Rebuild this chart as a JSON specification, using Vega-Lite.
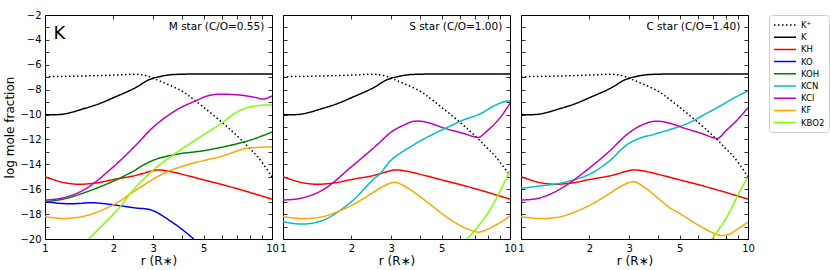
{
  "$schema": "https://vega.github.io/schema/vega-lite/v6.json",
  "padding": {"left": 3, "top": 9, "right": 0, "bottom": 0},
  "config": {
    "font": "DejaVu Sans",
    "view": {"stroke": "black", "strokeWidth": 1},
    "axis": {"domain": false, "grid": false, "labelFontSize": 10, "titleFontSize": 12, "titleFontWeight": "normal", "labelColor": "black", "titleColor": "black", "tickColor": "black", "tickWidth": 0.8},
    "legend": {"orient": "right", "offset": 14, "strokeColor": "#cccccc", "cornerRadius": 3, "padding": 4, "symbolType": "M-2.2,0H2.2", "symbolSize": 100, "symbolOffset": 6, "labelOffset": 10, "symbolStrokeWidth": 1.5, "labelFontSize": 8.5, "labelColor": "black", "rowPadding": 1.2}
  },
  "datasets": {
    "curves": [
      {"panel":"M","species":"K","r":1,"y":-10.0},{"panel":"M","species":"K","r":1.2,"y":-9.97},{"panel":"M","species":"K","r":1.5,"y":-9.5},{"panel":"M","species":"K","r":1.75,"y":-9.1},{"panel":"M","species":"K","r":2,"y":-8.65},{"panel":"M","species":"K","r":2.5,"y":-7.85},{"panel":"M","species":"K","r":2.8,"y":-7.3},{"panel":"M","species":"K","r":3,"y":-7.08},{"panel":"M","species":"K","r":3.5,"y":-6.82},{"panel":"M","species":"K","r":4,"y":-6.76},{"panel":"M","species":"K","r":5,"y":-6.74},{"panel":"M","species":"K","r":7,"y":-6.74},{"panel":"M","species":"K","r":10,"y":-6.74},
      {"panel":"S","species":"K","r":1,"y":-10.0},{"panel":"S","species":"K","r":1.2,"y":-9.97},{"panel":"S","species":"K","r":1.5,"y":-9.5},{"panel":"S","species":"K","r":1.75,"y":-9.1},{"panel":"S","species":"K","r":2,"y":-8.65},{"panel":"S","species":"K","r":2.5,"y":-7.85},{"panel":"S","species":"K","r":2.8,"y":-7.3},{"panel":"S","species":"K","r":3,"y":-7.08},{"panel":"S","species":"K","r":3.5,"y":-6.82},{"panel":"S","species":"K","r":4,"y":-6.76},{"panel":"S","species":"K","r":5,"y":-6.74},{"panel":"S","species":"K","r":7,"y":-6.74},{"panel":"S","species":"K","r":10,"y":-6.74},
      {"panel":"C","species":"K","r":1,"y":-10.0},{"panel":"C","species":"K","r":1.2,"y":-9.97},{"panel":"C","species":"K","r":1.5,"y":-9.5},{"panel":"C","species":"K","r":1.75,"y":-9.1},{"panel":"C","species":"K","r":2,"y":-8.65},{"panel":"C","species":"K","r":2.5,"y":-7.85},{"panel":"C","species":"K","r":2.8,"y":-7.3},{"panel":"C","species":"K","r":3,"y":-7.08},{"panel":"C","species":"K","r":3.5,"y":-6.82},{"panel":"C","species":"K","r":4,"y":-6.76},{"panel":"C","species":"K","r":5,"y":-6.74},{"panel":"C","species":"K","r":7,"y":-6.74},{"panel":"C","species":"K","r":10,"y":-6.74},

      {"panel":"M","species":"K⁺","r":1,"y":-6.96},{"panel":"M","species":"K⁺","r":1.5,"y":-6.9},{"panel":"M","species":"K⁺","r":2,"y":-6.83},{"panel":"M","species":"K⁺","r":2.5,"y":-6.76},{"panel":"M","species":"K⁺","r":2.75,"y":-6.85},{"panel":"M","species":"K⁺","r":3,"y":-7.08},{"panel":"M","species":"K⁺","r":3.2,"y":-7.3},{"panel":"M","species":"K⁺","r":4,"y":-8.1},{"panel":"M","species":"K⁺","r":4.6,"y":-8.9},{"panel":"M","species":"K⁺","r":6.05,"y":-10.66},{"panel":"M","species":"K⁺","r":7.1,"y":-11.8},{"panel":"M","species":"K⁺","r":7.9,"y":-12.65},{"panel":"M","species":"K⁺","r":8.7,"y":-13.45},{"panel":"M","species":"K⁺","r":10,"y":-15.0},
      {"panel":"S","species":"K⁺","r":1,"y":-6.96},{"panel":"S","species":"K⁺","r":1.5,"y":-6.9},{"panel":"S","species":"K⁺","r":2,"y":-6.83},{"panel":"S","species":"K⁺","r":2.5,"y":-6.76},{"panel":"S","species":"K⁺","r":2.75,"y":-6.85},{"panel":"S","species":"K⁺","r":3,"y":-7.08},{"panel":"S","species":"K⁺","r":3.2,"y":-7.3},{"panel":"S","species":"K⁺","r":4,"y":-8.1},{"panel":"S","species":"K⁺","r":4.6,"y":-8.9},{"panel":"S","species":"K⁺","r":6.05,"y":-10.66},{"panel":"S","species":"K⁺","r":7.1,"y":-11.8},{"panel":"S","species":"K⁺","r":7.9,"y":-12.65},{"panel":"S","species":"K⁺","r":8.7,"y":-13.45},{"panel":"S","species":"K⁺","r":10,"y":-14.9},
      {"panel":"C","species":"K⁺","r":1,"y":-6.96},{"panel":"C","species":"K⁺","r":1.5,"y":-6.9},{"panel":"C","species":"K⁺","r":2,"y":-6.83},{"panel":"C","species":"K⁺","r":2.5,"y":-6.76},{"panel":"C","species":"K⁺","r":2.75,"y":-6.85},{"panel":"C","species":"K⁺","r":3,"y":-7.08},{"panel":"C","species":"K⁺","r":3.2,"y":-7.3},{"panel":"C","species":"K⁺","r":4,"y":-8.1},{"panel":"C","species":"K⁺","r":4.6,"y":-8.9},{"panel":"C","species":"K⁺","r":6.05,"y":-10.66},{"panel":"C","species":"K⁺","r":7.1,"y":-11.8},{"panel":"C","species":"K⁺","r":7.9,"y":-12.65},{"panel":"C","species":"K⁺","r":8.7,"y":-13.45},{"panel":"C","species":"K⁺","r":10,"y":-15.0},

      {"panel":"M","species":"KH","r":1,"y":-15.0},{"panel":"M","species":"KH","r":1.2,"y":-15.45},{"panel":"M","species":"KH","r":1.4,"y":-15.6},{"panel":"M","species":"KH","r":1.7,"y":-15.48},{"panel":"M","species":"KH","r":2,"y":-15.22},{"panel":"M","species":"KH","r":2.5,"y":-14.9},{"panel":"M","species":"KH","r":3,"y":-14.5},{"panel":"M","species":"KH","r":3.15,"y":-14.45},{"panel":"M","species":"KH","r":3.5,"y":-14.55},{"panel":"M","species":"KH","r":4.3,"y":-14.94},{"panel":"M","species":"KH","r":5,"y":-15.25},{"panel":"M","species":"KH","r":7,"y":-15.95},{"panel":"M","species":"KH","r":10,"y":-16.8},
      {"panel":"S","species":"KH","r":1,"y":-15.0},{"panel":"S","species":"KH","r":1.2,"y":-15.45},{"panel":"S","species":"KH","r":1.4,"y":-15.6},{"panel":"S","species":"KH","r":1.7,"y":-15.48},{"panel":"S","species":"KH","r":2,"y":-15.22},{"panel":"S","species":"KH","r":2.5,"y":-14.9},{"panel":"S","species":"KH","r":3,"y":-14.5},{"panel":"S","species":"KH","r":3.15,"y":-14.45},{"panel":"S","species":"KH","r":3.5,"y":-14.55},{"panel":"S","species":"KH","r":4.3,"y":-14.94},{"panel":"S","species":"KH","r":5,"y":-15.25},{"panel":"S","species":"KH","r":7,"y":-15.95},{"panel":"S","species":"KH","r":10,"y":-16.8},
      {"panel":"C","species":"KH","r":1,"y":-15.0},{"panel":"C","species":"KH","r":1.2,"y":-15.45},{"panel":"C","species":"KH","r":1.4,"y":-15.6},{"panel":"C","species":"KH","r":1.7,"y":-15.48},{"panel":"C","species":"KH","r":2,"y":-15.22},{"panel":"C","species":"KH","r":2.5,"y":-14.9},{"panel":"C","species":"KH","r":3,"y":-14.5},{"panel":"C","species":"KH","r":3.15,"y":-14.45},{"panel":"C","species":"KH","r":3.5,"y":-14.55},{"panel":"C","species":"KH","r":4.3,"y":-14.94},{"panel":"C","species":"KH","r":5,"y":-15.25},{"panel":"C","species":"KH","r":7,"y":-15.95},{"panel":"C","species":"KH","r":10,"y":-16.8},

      {"panel":"M","species":"KO","r":1,"y":-17.0},{"panel":"M","species":"KO","r":1.2,"y":-17.15},{"panel":"M","species":"KO","r":1.4,"y":-17.15},{"panel":"M","species":"KO","r":1.6,"y":-17.08},{"panel":"M","species":"KO","r":1.8,"y":-17.15},{"panel":"M","species":"KO","r":2,"y":-17.25},{"panel":"M","species":"KO","r":2.5,"y":-17.5},{"panel":"M","species":"KO","r":2.87,"y":-17.62},{"panel":"M","species":"KO","r":3.1,"y":-17.85},{"panel":"M","species":"KO","r":3.4,"y":-18.3},{"panel":"M","species":"KO","r":4,"y":-19.2},{"panel":"M","species":"KO","r":4.52,"y":-20.0},

      {"panel":"M","species":"KOH","r":1,"y":-17.0},{"panel":"M","species":"KOH","r":1.2,"y":-16.8},{"panel":"M","species":"KOH","r":1.56,"y":-16.15},{"panel":"M","species":"KOH","r":2,"y":-15.35},{"panel":"M","species":"KOH","r":2.42,"y":-14.6},{"panel":"M","species":"KOH","r":2.75,"y":-14.0},{"panel":"M","species":"KOH","r":3.07,"y":-13.6},{"panel":"M","species":"KOH","r":3.77,"y":-13.2},{"panel":"M","species":"KOH","r":5.1,"y":-12.88},{"panel":"M","species":"KOH","r":7.16,"y":-12.3},{"panel":"M","species":"KOH","r":8.5,"y":-11.9},{"panel":"M","species":"KOH","r":10,"y":-11.4},

      {"panel":"M","species":"KCl","r":1,"y":-16.87},{"panel":"M","species":"KCl","r":1.2,"y":-16.7},{"panel":"M","species":"KCl","r":1.5,"y":-16.0},{"panel":"M","species":"KCl","r":2,"y":-14.2},{"panel":"M","species":"KCl","r":2.5,"y":-12.5},{"panel":"M","species":"KCl","r":3,"y":-11.0},{"panel":"M","species":"KCl","r":3.5,"y":-10.05},{"panel":"M","species":"KCl","r":4,"y":-9.4},{"panel":"M","species":"KCl","r":4.61,"y":-8.9},{"panel":"M","species":"KCl","r":5.1,"y":-8.55},{"panel":"M","species":"KCl","r":5.65,"y":-8.38},{"panel":"M","species":"KCl","r":7.16,"y":-8.43},{"panel":"M","species":"KCl","r":8.3,"y":-8.6},{"panel":"M","species":"KCl","r":9.2,"y":-8.75},{"panel":"M","species":"KCl","r":10,"y":-8.5},

      {"panel":"M","species":"KF","r":1,"y":-18.2},{"panel":"M","species":"KF","r":1.2,"y":-18.35},{"panel":"M","species":"KF","r":1.5,"y":-18.15},{"panel":"M","species":"KF","r":2,"y":-17.25},{"panel":"M","species":"KF","r":2.5,"y":-16.1},{"panel":"M","species":"KF","r":3.07,"y":-15.08},{"panel":"M","species":"KF","r":3.5,"y":-14.55},{"panel":"M","species":"KF","r":4.31,"y":-14.0},{"panel":"M","species":"KF","r":5,"y":-13.7},{"panel":"M","species":"KF","r":6.04,"y":-13.33},{"panel":"M","species":"KF","r":7.66,"y":-12.72},{"panel":"M","species":"KF","r":8.5,"y":-12.65},{"panel":"M","species":"KF","r":10,"y":-12.6},

      {"panel":"M","species":"KBO2","r":1.555,"y":-20.0},{"panel":"M","species":"KBO2","r":2.12,"y":-17.5},{"panel":"M","species":"KBO2","r":2.42,"y":-16.15},{"panel":"M","species":"KBO2","r":3.02,"y":-14.4},{"panel":"M","species":"KBO2","r":3.7,"y":-13.2},{"panel":"M","species":"KBO2","r":4.77,"y":-11.86},{"panel":"M","species":"KBO2","r":6.04,"y":-10.66},{"panel":"M","species":"KBO2","r":6.92,"y":-9.85},{"panel":"M","species":"KBO2","r":7.92,"y":-9.4},{"panel":"M","species":"KBO2","r":9.06,"y":-9.25},{"panel":"M","species":"KBO2","r":10,"y":-9.23},

      {"panel":"S","species":"KCl","r":1,"y":-16.87},{"panel":"S","species":"KCl","r":1.2,"y":-16.72},{"panel":"S","species":"KCl","r":1.5,"y":-16.05},{"panel":"S","species":"KCl","r":2,"y":-14.2},{"panel":"S","species":"KCl","r":2.5,"y":-12.7},{"panel":"S","species":"KCl","r":2.68,"y":-12.2},{"panel":"S","species":"KCl","r":3,"y":-11.4},{"panel":"S","species":"KCl","r":3.4,"y":-10.85},{"panel":"S","species":"KCl","r":3.75,"y":-10.55},{"panel":"S","species":"KCl","r":4.2,"y":-10.58},{"panel":"S","species":"KCl","r":5.26,"y":-11.15},{"panel":"S","species":"KCl","r":6.2,"y":-11.5},{"panel":"S","species":"KCl","r":7.0,"y":-11.8},{"panel":"S","species":"KCl","r":7.3,"y":-11.83},{"panel":"S","species":"KCl","r":8,"y":-11.25},{"panel":"S","species":"KCl","r":9,"y":-10.3},{"panel":"S","species":"KCl","r":10,"y":-9.1},

      {"panel":"S","species":"KCN","r":1,"y":-18.6},{"panel":"S","species":"KCN","r":1.2,"y":-18.8},{"panel":"S","species":"KCN","r":1.5,"y":-18.5},{"panel":"S","species":"KCN","r":2,"y":-17.0},{"panel":"S","species":"KCN","r":2.5,"y":-15.2},{"panel":"S","species":"KCN","r":2.68,"y":-14.75},{"panel":"S","species":"KCN","r":3,"y":-13.65},{"panel":"S","species":"KCN","r":3.75,"y":-12.45},{"panel":"S","species":"KCN","r":4.5,"y":-11.65},{"panel":"S","species":"KCN","r":5.26,"y":-11.06},{"panel":"S","species":"KCN","r":6.2,"y":-10.45},{"panel":"S","species":"KCN","r":7.38,"y":-9.95},{"panel":"S","species":"KCN","r":8.5,"y":-9.3},{"panel":"S","species":"KCN","r":9.5,"y":-8.95},{"panel":"S","species":"KCN","r":10,"y":-8.9},

      {"panel":"S","species":"KF","r":1,"y":-18.2},{"panel":"S","species":"KF","r":1.2,"y":-18.35},{"panel":"S","species":"KF","r":1.5,"y":-18.2},{"panel":"S","species":"KF","r":2,"y":-17.3},{"panel":"S","species":"KF","r":2.5,"y":-16.25},{"panel":"S","species":"KF","r":2.68,"y":-15.9},{"panel":"S","species":"KF","r":3.1,"y":-15.45},{"panel":"S","species":"KF","r":3.5,"y":-15.85},{"panel":"S","species":"KF","r":4.44,"y":-17.2},{"panel":"S","species":"KF","r":5,"y":-17.95},{"panel":"S","species":"KF","r":6,"y":-18.9},{"panel":"S","species":"KF","r":7,"y":-19.4},{"panel":"S","species":"KF","r":7.3,"y":-19.45},{"panel":"S","species":"KF","r":8,"y":-19.2},{"panel":"S","species":"KF","r":9,"y":-18.7},{"panel":"S","species":"KF","r":10,"y":-18.15},

      {"panel":"S","species":"KBO2","r":6.45,"y":-20.0},{"panel":"S","species":"KBO2","r":7,"y":-19.3},{"panel":"S","species":"KBO2","r":8,"y":-17.9},{"panel":"S","species":"KBO2","r":8.9,"y":-16.4},{"panel":"S","species":"KBO2","r":10,"y":-14.5},

      {"panel":"C","species":"KCN","r":1,"y":-15.93},{"panel":"C","species":"KCN","r":1.2,"y":-15.75},{"panel":"C","species":"KCN","r":1.5,"y":-15.5},{"panel":"C","species":"KCN","r":2,"y":-14.8},{"panel":"C","species":"KCN","r":2.5,"y":-13.6},{"panel":"C","species":"KCN","r":2.73,"y":-12.9},{"panel":"C","species":"KCN","r":3,"y":-12.3},{"panel":"C","species":"KCN","r":3.4,"y":-11.85},{"panel":"C","species":"KCN","r":3.83,"y":-11.6},{"panel":"C","species":"KCN","r":5.37,"y":-10.74},{"panel":"C","species":"KCN","r":6.5,"y":-9.95},{"panel":"C","species":"KCN","r":7.53,"y":-9.32},{"panel":"C","species":"KCN","r":8.7,"y":-8.65},{"panel":"C","species":"KCN","r":10,"y":-8.1},

      {"panel":"C","species":"KCl","r":1,"y":-16.87},{"panel":"C","species":"KCl","r":1.2,"y":-16.72},{"panel":"C","species":"KCl","r":1.5,"y":-15.95},{"panel":"C","species":"KCl","r":2,"y":-14.3},{"panel":"C","species":"KCl","r":2.5,"y":-12.8},{"panel":"C","species":"KCl","r":2.73,"y":-12.1},{"panel":"C","species":"KCl","r":3,"y":-11.45},{"panel":"C","species":"KCl","r":3.4,"y":-10.85},{"panel":"C","species":"KCl","r":3.83,"y":-10.55},{"panel":"C","species":"KCl","r":4.3,"y":-10.6},{"panel":"C","species":"KCl","r":5.37,"y":-11.15},{"panel":"C","species":"KCl","r":6.2,"y":-11.5},{"panel":"C","species":"KCl","r":7.16,"y":-11.9},{"panel":"C","species":"KCl","r":7.4,"y":-11.9},{"panel":"C","species":"KCl","r":8,"y":-11.3},{"panel":"C","species":"KCl","r":9,"y":-10.4},{"panel":"C","species":"KCl","r":10,"y":-9.45},

      {"panel":"C","species":"KF","r":1,"y":-18.2},{"panel":"C","species":"KF","r":1.2,"y":-18.35},{"panel":"C","species":"KF","r":1.5,"y":-18.2},{"panel":"C","species":"KF","r":2,"y":-17.3},{"panel":"C","species":"KF","r":2.5,"y":-16.25},{"panel":"C","species":"KF","r":2.73,"y":-15.8},{"panel":"C","species":"KF","r":3.13,"y":-15.4},{"panel":"C","species":"KF","r":3.5,"y":-15.85},{"panel":"C","species":"KF","r":4.53,"y":-17.5},{"panel":"C","species":"KF","r":5,"y":-17.95},{"panel":"C","species":"KF","r":6,"y":-18.85},{"panel":"C","species":"KF","r":7,"y":-19.5},{"panel":"C","species":"KF","r":7.6,"y":-19.72},{"panel":"C","species":"KF","r":8.3,"y":-19.6},{"panel":"C","species":"KF","r":9,"y":-19.2},{"panel":"C","species":"KF","r":10,"y":-18.65},

      {"panel":"C","species":"KBO2","r":6.92,"y":-20.0},{"panel":"C","species":"KBO2","r":8,"y":-18.35},{"panel":"C","species":"KBO2","r":9.06,"y":-16.41},{"panel":"C","species":"KBO2","r":10,"y":-15.0}
    ],
    "labels": [
      {"panel":"M","kind":"title","label":"M star (C/O=0.55)"},
      {"panel":"S","kind":"title","label":"S star (C/O=1.00)"},
      {"panel":"C","kind":"title","label":"C star (C/O=1.40)"},
      {"panel":"M","kind":"big","label":"K"}
    ]
  },
  "hconcat": [
    {
      "width": 227, "height": 224,
      "resolve": {"axis": {"x": "independent", "y": "independent"}},
      "layer": [
        {
          "data": {"name": "curves"},
          "transform": [{"filter": "datum.panel == 'M'"}],
          "mark": {"type": "line", "interpolate": "catmull-rom", "clip": true, "strokeWidth": 1.5},
          "encoding": {
            "x": {"field": "r", "type": "quantitative", "scale": {"type": "log", "domain": [1, 10]}, "axis": {"orient": "bottom", "title": "r (R∗)", "values": [1,2,3,4,5,6,7,8,9,10], "format": "~g", "labelExpr": "indexof([1,2,3,5,10], datum.value) >= 0 ? datum.label : ''", "tickSize": -4, "labelPadding": 8, "titlePadding": 2, "labelFlush": false}},
            "y": {"field": "y", "type": "quantitative", "scale": {"domain": [-20, -2], "nice": false}, "axis": {"orient": "left", "title": "log mole fraction", "values": [-20,-19,-18,-17,-16,-15,-14,-13,-12,-11,-10,-9,-8,-7,-6,-5,-4,-3,-2], "labelExpr": "datum.value % 2 == 0 ? datum.label : ''", "tickSize": -4, "labelPadding": 8, "titlePadding": 3}},
            "color": {"field": "species", "type": "nominal", "scale": {"domain": ["K⁺","K","KH","KO","KOH","KCN","KCl","KF","KBO2"], "range": ["#000000","#000000","#ff0000","#0000ff","#008000","#00bfbf","#bf00bf","#ffa500","#7fff00"]}, "legend": {"title": null}},
            "strokeDash": {"field": "species", "type": "nominal", "scale": {"domain": ["K⁺","K","KH","KO","KOH","KCN","KCl","KF","KBO2"], "range": [[1.5,2.5],[1,0],[1,0],[1,0],[1,0],[1,0],[1,0],[1,0],[1,0]]}, "legend": {"title": null}}
          }
        },
        {
          "data": {"name": "curves"},
          "transform": [{"filter": "datum.panel == 'M'"}],
          "mark": {"type": "point", "opacity": 0, "size": 0},
          "encoding": {
            "x": {"field": "r", "type": "quantitative", "axis": {"orient": "top", "title": null, "values": [1,2,3,4,5,6,7,8,9,10], "labels": false, "tickSize": -4, "minExtent": 0, "maxExtent": 0}},
            "y": {"field": "y", "type": "quantitative", "axis": {"orient": "right", "title": null, "values": [-20,-19,-18,-17,-16,-15,-14,-13,-12,-11,-10,-9,-8,-7,-6,-5,-4,-3,-2], "labels": false, "tickSize": -4, "minExtent": 0, "maxExtent": 0}}
          }
        },
        {
          "data": {"name": "labels"},
          "transform": [{"filter": "datum.panel == 'M' && datum.kind == 'title'"}],
          "mark": {"type": "text", "align": "right", "baseline": "middle", "fontSize": 10.5, "color": "black"},
          "encoding": {"x": {"datum": 9.25, "type": "quantitative", "axis": null}, "y": {"datum": -2.95, "type": "quantitative", "axis": null}, "text": {"field": "label"}}
        },
        {
          "data": {"name": "labels"},
          "transform": [{"filter": "datum.panel == 'M' && datum.kind == 'big'"}],
          "mark": {"type": "text", "align": "left", "baseline": "alphabetic", "fontSize": 18, "color": "black"},
          "encoding": {"x": {"datum": 1.09, "type": "quantitative", "axis": null}, "y": {"datum": -3.9, "type": "quantitative", "axis": null}, "text": {"field": "label"}}
        }
      ]
    },
    {
      "width": 227, "height": 224,
      "resolve": {"axis": {"x": "independent", "y": "independent"}},
      "layer": [
        {
          "data": {"name": "curves"},
          "transform": [{"filter": "datum.panel == 'S'"}],
          "mark": {"type": "line", "interpolate": "catmull-rom", "clip": true, "strokeWidth": 1.5},
          "encoding": {
            "x": {"field": "r", "type": "quantitative", "scale": {"type": "log", "domain": [1, 10]}, "axis": {"orient": "bottom", "title": "r (R∗)", "values": [1,2,3,4,5,6,7,8,9,10], "format": "~g", "labelExpr": "indexof([1,2,3,5,10], datum.value) >= 0 ? datum.label : ''", "tickSize": -4, "labelPadding": 8, "titlePadding": 2, "labelFlush": false}},
            "y": {"field": "y", "type": "quantitative", "scale": {"domain": [-20, -2], "nice": false}, "axis": {"orient": "left", "title": null, "labels": false, "values": [-20,-19,-18,-17,-16,-15,-14,-13,-12,-11,-10,-9,-8,-7,-6,-5,-4,-3,-2], "tickSize": -4, "minExtent": 0, "maxExtent": 0}},
            "color": {"field": "species", "type": "nominal", "scale": {"domain": ["K⁺","K","KH","KO","KOH","KCN","KCl","KF","KBO2"], "range": ["#000000","#000000","#ff0000","#0000ff","#008000","#00bfbf","#bf00bf","#ffa500","#7fff00"]}, "legend": {"title": null}},
            "strokeDash": {"field": "species", "type": "nominal", "scale": {"domain": ["K⁺","K","KH","KO","KOH","KCN","KCl","KF","KBO2"], "range": [[1.5,2.5],[1,0],[1,0],[1,0],[1,0],[1,0],[1,0],[1,0],[1,0]]}, "legend": {"title": null}}
          }
        },
        {
          "data": {"name": "curves"},
          "transform": [{"filter": "datum.panel == 'S'"}],
          "mark": {"type": "point", "opacity": 0, "size": 0},
          "encoding": {
            "x": {"field": "r", "type": "quantitative", "axis": {"orient": "top", "title": null, "values": [1,2,3,4,5,6,7,8,9,10], "labels": false, "tickSize": -4, "minExtent": 0, "maxExtent": 0}},
            "y": {"field": "y", "type": "quantitative", "axis": {"orient": "right", "title": null, "values": [-20,-19,-18,-17,-16,-15,-14,-13,-12,-11,-10,-9,-8,-7,-6,-5,-4,-3,-2], "labels": false, "tickSize": -4, "minExtent": 0, "maxExtent": 0}}
          }
        },
        {
          "data": {"name": "labels"},
          "transform": [{"filter": "datum.panel == 'S' && datum.kind == 'title'"}],
          "mark": {"type": "text", "align": "right", "baseline": "middle", "fontSize": 10.5, "color": "black"},
          "encoding": {"x": {"datum": 9.25, "type": "quantitative", "axis": null}, "y": {"datum": -2.95, "type": "quantitative", "axis": null}, "text": {"field": "label"}}
        }
      ]
    },
    {
      "width": 227, "height": 224,
      "resolve": {"axis": {"x": "independent", "y": "independent"}},
      "layer": [
        {
          "data": {"name": "curves"},
          "transform": [{"filter": "datum.panel == 'C'"}],
          "mark": {"type": "line", "interpolate": "catmull-rom", "clip": true, "strokeWidth": 1.5},
          "encoding": {
            "x": {"field": "r", "type": "quantitative", "scale": {"type": "log", "domain": [1, 10]}, "axis": {"orient": "bottom", "title": "r (R∗)", "values": [1,2,3,4,5,6,7,8,9,10], "format": "~g", "labelExpr": "indexof([1,2,3,5,10], datum.value) >= 0 ? datum.label : ''", "tickSize": -4, "labelPadding": 8, "titlePadding": 2, "labelFlush": false}},
            "y": {"field": "y", "type": "quantitative", "scale": {"domain": [-20, -2], "nice": false}, "axis": {"orient": "left", "title": null, "labels": false, "values": [-20,-19,-18,-17,-16,-15,-14,-13,-12,-11,-10,-9,-8,-7,-6,-5,-4,-3,-2], "tickSize": -4, "minExtent": 0, "maxExtent": 0}},
            "color": {"field": "species", "type": "nominal", "scale": {"domain": ["K⁺","K","KH","KO","KOH","KCN","KCl","KF","KBO2"], "range": ["#000000","#000000","#ff0000","#0000ff","#008000","#00bfbf","#bf00bf","#ffa500","#7fff00"]}, "legend": {"title": null}},
            "strokeDash": {"field": "species", "type": "nominal", "scale": {"domain": ["K⁺","K","KH","KO","KOH","KCN","KCl","KF","KBO2"], "range": [[1.5,2.5],[1,0],[1,0],[1,0],[1,0],[1,0],[1,0],[1,0],[1,0]]}, "legend": {"title": null}}
          }
        },
        {
          "data": {"name": "curves"},
          "transform": [{"filter": "datum.panel == 'C'"}],
          "mark": {"type": "point", "opacity": 0, "size": 0},
          "encoding": {
            "x": {"field": "r", "type": "quantitative", "axis": {"orient": "top", "title": null, "values": [1,2,3,4,5,6,7,8,9,10], "labels": false, "tickSize": -4, "minExtent": 0, "maxExtent": 0}},
            "y": {"field": "y", "type": "quantitative", "axis": {"orient": "right", "title": null, "values": [-20,-19,-18,-17,-16,-15,-14,-13,-12,-11,-10,-9,-8,-7,-6,-5,-4,-3,-2], "labels": false, "tickSize": -4, "minExtent": 0, "maxExtent": 0}}
          }
        },
        {
          "data": {"name": "labels"},
          "transform": [{"filter": "datum.panel == 'C' && datum.kind == 'title'"}],
          "mark": {"type": "text", "align": "right", "baseline": "middle", "fontSize": 10.5, "color": "black"},
          "encoding": {"x": {"datum": 9.25, "type": "quantitative", "axis": null}, "y": {"datum": -2.95, "type": "quantitative", "axis": null}, "text": {"field": "label"}}
        }
      ]
    }
  ],
  "spacing": 0
}
